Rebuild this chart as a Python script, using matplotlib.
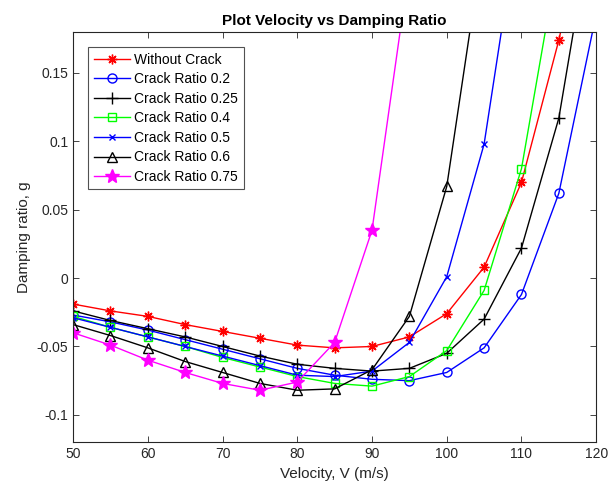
import numpy as np
import matplotlib
matplotlib.use('Agg')
import matplotlib.pyplot as plt

plt.rcParams['font.family'] = ['Liberation Sans', 'DejaVu Sans']

velocity = [50, 55, 60, 65, 70, 75, 80, 85, 90, 95, 100, 105, 110, 115, 120]

without_crack = [-0.019, -0.024, -0.028, -0.034, -0.039, -0.044, -0.049, -0.051, -0.050,
                 -0.043, -0.026, 0.008, 0.070, 0.174, 0.30]
crack_02 = [-0.027, -0.032, -0.038, -0.045, -0.052, -0.059, -0.066, -0.071, -0.074,
            -0.075, -0.069, -0.051, -0.012, 0.062, 0.193]
crack_025 = [-0.024, -0.031, -0.037, -0.043, -0.050, -0.057, -0.063, -0.066, -0.068,
             -0.066, -0.055, -0.030, 0.022, 0.117, 0.279]
crack_04 = [-0.028, -0.036, -0.043, -0.050, -0.058, -0.065, -0.072, -0.077, -0.079,
            -0.072, -0.053, -0.009, 0.080, 0.237]
crack_05 = [-0.029, -0.036, -0.043, -0.050, -0.057, -0.064, -0.071, -0.072, -0.068,
            -0.047, 0.001, 0.098, 0.276]
crack_06 = [-0.034, -0.042, -0.051, -0.061, -0.069, -0.077, -0.082, -0.081, -0.067,
            -0.028, 0.067, 0.250]
crack_075 = [-0.040, -0.049, -0.060, -0.069, -0.077, -0.082, -0.076, -0.047, 0.035, 0.228]

fig = plt.figure(figsize=(6.09, 4.98), dpi=100, facecolor='w')
ax = fig.add_axes([0.120, 0.112, 0.859, 0.824])

lw = 1.0
ax.plot(velocity[:len(without_crack)], without_crack, color='red', marker=(8, 2, 0),
        markersize=7, lw=lw, label='Without Crack')
ax.plot(velocity[:len(crack_02)], crack_02, color='blue', marker='o', markersize=6.5,
        markerfacecolor='none', lw=lw, label='Crack Ratio 0.2')
ax.plot(velocity[:len(crack_025)], crack_025, color='black', marker='+', markersize=8,
        lw=lw, label='Crack Ratio 0.25')
ax.plot(velocity[:len(crack_04)], crack_04, color='#00ff00', marker='s', markersize=6,
        markerfacecolor='none', lw=lw, label='Crack Ratio 0.4')
ax.plot(velocity[:len(crack_05)], crack_05, color='blue', marker='x', markersize=5,
        lw=lw, label='Crack Ratio 0.5')
ax.plot(velocity[:len(crack_06)], crack_06, color='black', marker='^', markersize=7,
        markerfacecolor='none', lw=lw, label='Crack Ratio 0.6')
ax.plot(velocity[:len(crack_075)], crack_075, color='magenta', marker='*', markersize=10,
        lw=lw, label='Crack Ratio 0.75')

ax.set_xlim(50, 120)
ax.set_ylim(-0.12, 0.18)
ax.set_xticks(np.arange(50, 121, 10))
ax.set_yticks([-0.1, -0.05, 0, 0.05, 0.1, 0.15])
ax.set_yticklabels(['-0.1', '-0.05', '0', '0.05', '0.1', '0.15'])

ax.tick_params(direction='in', top=True, right=True, labelsize=10, colors='#262626',
               length=4, width=0.6)
for s in ax.spines.values():
    s.set_color('#262626')
    s.set_linewidth(0.8)

ax.set_title('Plot Velocity vs Damping Ratio', fontsize=11, fontweight='bold', pad=5)
ax.set_xlabel('Velocity, V (m/s)', fontsize=11, color='#262626')
ax.set_ylabel('Damping ratio, g', fontsize=11, color='#262626')

lgd = ax.legend(loc='upper left', bbox_to_anchor=(0.029, 0.963), fontsize=10,
                frameon=True, fancybox=False, edgecolor='#262626', handlelength=2.6,
                labelspacing=0.40, borderpad=0.4, handletextpad=0.3, borderaxespad=0)
lgd.get_frame().set_linewidth(0.8)

plt.savefig('out.png', dpi=100)
plt.close(fig)
